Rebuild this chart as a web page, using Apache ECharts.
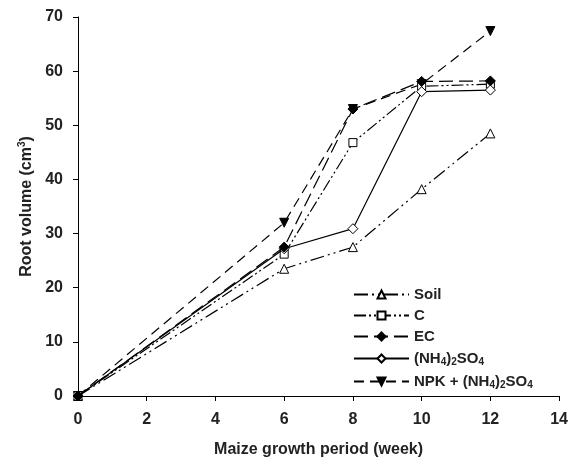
<!DOCTYPE html>
<html>
<head>
<meta charset="utf-8">
<script src="https://cdn.jsdelivr.net/npm/echarts@6/dist/echarts.min.js"></script>
<style>
  html, body { margin: 0; padding: 0; background: #fff; }
  #chart { width: 571px; height: 464px; }
</style>
</head>
<body>
<div id="chart"></div>
<script>
// week of growth
const weeks = [0, 6, 8, 10, 12];

// root volume (cm3) per treatment
const soil = [0, 23.5, 27.5, 38.2, 48.5];
const compost = [0, 26.2, 46.8, 57.2, 57.6];
const ec = [0, 27.5, 53.0, 58.1, 58.2];
const ammonium = [0, 27.2, 30.9, 56.2, 56.5];
const npk = [0, 32.0, 53.0, 57.6, 67.4];

const names = ['Soil', 'C', 'EC', '(NH4)2SO4', 'NPK + (NH4)2SO4'];

const font = 'Liberation Sans, Arial, sans-serif';

const pairs = arr => weeks.map((w, i) => [w, arr[i]]);

const chart = echarts.init(document.getElementById('chart'));

function makeSeries(name, data, symbol, filled, dash, z, rotate) {
  return {
    name: name,
    type: 'line',
    data: pairs(data),
    z: z,
    symbol: symbol,
    symbolSize: symbol === 'rect' ? 8 : symbol === 'triangle' ? 9 : 10,
    symbolRotate: rotate || 0,
    showAllSymbol: true,
    itemStyle: { color: filled ? '#000' : '#fff', borderColor: '#000', borderWidth: 1 },
    lineStyle: { color: '#000', width: 1.2, type: dash },
    emphasis: { disabled: true }
  };
}

const sub = { fontFamily: font, fontSize: 10, fontWeight: 'bold', color: '#222', lineHeight: 18, padding: [7, 0, 0, 0] };
const txt = { fontFamily: font, fontSize: 15, fontWeight: 'bold', color: '#222', lineHeight: 18 };

chart.setOption({
  animation: false,
  grid: { left: 78, right: 9, top: 17, bottom: 68 },
  xAxis: {
    type: 'value', min: 0, max: 14, interval: 2,
    name: 'Maize growth period (week)',
    nameLocation: 'middle', nameGap: 46,
    nameTextStyle: { fontFamily: font, fontSize: 16, fontWeight: 'bold', color: '#222' },
    axisLine: { lineStyle: { color: '#000', width: 1 } },
    axisTick: { show: true, length: 5, lineStyle: { color: '#000' } },
    axisLabel: { fontFamily: font, fontSize: 16, fontWeight: 'bold', color: '#222', margin: 16 },
    splitLine: { show: false }
  },
  yAxis: {
    type: 'value', min: 0, max: 70, interval: 10,
    name: '{n|Root volume (cm}{s|3}{n|)}',
    nameLocation: 'middle', nameGap: 42, nameRotate: 90,
    nameTextStyle: {
      rich: {
        n: { fontFamily: font, fontSize: 16, fontWeight: 'bold', color: '#222' },
        s: { fontFamily: font, fontSize: 10, fontWeight: 'bold', color: '#222', padding: [0, 0, 9, 0] }
      }
    },
    axisLine: { show: true, lineStyle: { color: '#000', width: 1 } },
    axisTick: { show: true, length: 5, lineStyle: { color: '#000' } },
    axisLabel: { fontFamily: font, fontSize: 16, fontWeight: 'bold', color: '#222', margin: 15 },
    splitLine: { show: false }
  },
  legend: {
    orient: 'vertical',
    left: 348, top: 282,
    itemWidth: 55, itemHeight: 10, itemGap: 6,
    data: names,
    textStyle: { fontFamily: font, fontSize: 15, fontWeight: 'bold', color: '#222',
      rich: { n: txt, s: sub }
    },
    formatter: function (name) {
      if (name === '(NH4)2SO4') return '{n|(NH}{s|4}{n|)}{s|2}{n|SO}{s|4}';
      if (name === 'NPK + (NH4)2SO4') return '{n|NPK + (NH}{s|4}{n|)}{s|2}{n|SO}{s|4}';
      return '{n|' + name + '}';
    }
  },
  series: [
    makeSeries(names[0], soil, 'triangle', false, [14, 4, 2, 4, 2, 4], 3),
    makeSeries(names[1], compost, 'rect', false, [12, 3, 2, 3, 2, 3], 3),
    makeSeries(names[2], ec, 'diamond', true, [14, 6], 5),
    makeSeries(names[3], ammonium, 'diamond', false, 'solid', 4),
    makeSeries(names[4], npk, 'triangle', true, [10, 6], 2, 180)
  ]
});
</script>
</body>
</html>
